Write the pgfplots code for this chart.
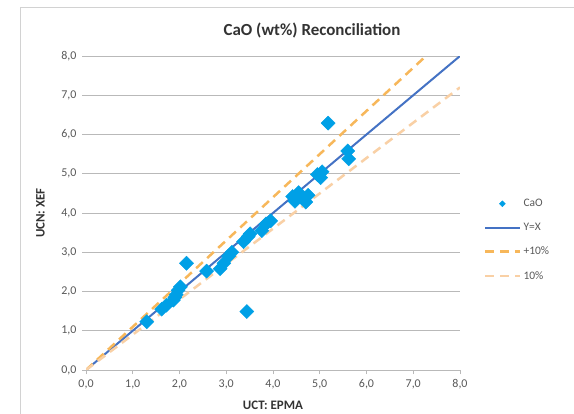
\documentclass[border=0pt]{standalone}
\usepackage{pgfplots}
\pgfplotsset{compat=1.18}
\usepackage{fontspec}
\setmainfont{Carlito}
\definecolor{caoc}{RGB}{0,160,230}
\definecolor{yxc}{RGB}{68,114,196}
\definecolor{upc}{RGB}{247,183,90}
\definecolor{loc}{RGB}{249,208,165}
\definecolor{gridc}{RGB}{185,185,185}
\definecolor{tickc}{RGB}{89,89,89}
\begin{document}
\begin{tikzpicture}
\useasboundingbox (0,0) rectangle (574bp,414bp);
\fill[white] (0,0) rectangle (574bp,414bp);
\draw[color=gray!35, line width=0.8bp] (20bp,0) -- (20bp,407bp) -- (574bp,407bp);
\begin{axis}[
  at={(86bp,44bp)}, anchor=south west,
  scale only axis, width=374bp, height=314bp,
  xmin=0, xmax=8, ymin=0, ymax=8,
  xtick={0,1,...,8}, ytick={0,1,...,8},
  /pgf/number format/.cd, fixed, zerofill, precision=1, use comma, assume math mode=true,
  /pgfplots/.cd,
  ymajorgrids, major grid style={gridc, line width=0.8bp},
  axis x line*=bottom, axis y line*=left,
  x axis line style={gridc, line width=0.8bp, -},
  y axis line style={draw=none},
  tick align=outside, major tick length=4bp,
  tick style={gridc, line width=0.8bp},
  ticklabel style={font=\fontsize{12}{14}\selectfont, text=tickc},
  xticklabel style={yshift=-2bp},
  yticklabel style={xshift=-2bp},
  xlabel={UCT: EPMA}, ylabel={UCN: XEF},
  every axis x label/.style={at={(axis description cs:0.5,-0.112)}, anchor=center, font=\bfseries\fontsize{13}{15}\selectfont, text=black!80},
  every axis y label/.style={at={(axis description cs:-0.122,0.5)}, anchor=center, rotate=90, font=\bfseries\fontsize{13}{15}\selectfont, text=black!80},
  clip=true,
  legend image code/.code={\draw[mark repeat=2,mark phase=2,#1] plot coordinates {(0bp,0bp) (17bp,0bp) (35bp,0bp)};},
  legend style={at={(axis description cs:1.064,0.414)}, anchor=west, draw=none, fill=none,
    font=\fontsize{11.5}{13}\selectfont, text=tickc, row sep=11bp, inner xsep=0bp},
  legend cell align=left,
]
\addplot[only marks, mark=square*, mark size=5pt, mark options={rotate=45, fill=caoc, draw=caoc}, caoc,
  legend image post style={mark size=2.1pt}]
coordinates {
(1.30,1.23) (1.62,1.55) (1.72,1.65) (1.87,1.78) (1.90,1.85) (1.93,1.92) (1.97,2.03) (2.02,2.12)
(2.15,2.72) (2.58,2.52) (2.87,2.58) (2.95,2.72) (3.05,2.90) (3.12,3.00) (3.37,3.27) (3.47,3.40)
(3.51,3.47) (3.44,1.49) (3.76,3.55) (3.85,3.72) (3.95,3.80) (4.42,4.42) (4.47,4.30) (4.55,4.52)
(4.62,4.38) (4.70,4.28) (4.75,4.45) (4.95,4.98) (5.05,5.05) (5.02,4.90) (5.18,6.29) (5.60,5.58) (5.62,5.38)
};
\addlegendentry{CaO}
\addplot[yxc, line width=2bp, no marks] coordinates {(0,0) (8,8)};
\addlegendentry{Y=X}
\addplot[upc, line width=2.5bp, dash pattern=on 9bp off 6bp, no marks] coordinates {(0,0) (7.2727,8)};
\addlegendentry{+10\%}
\addplot[loc, line width=2.5bp, dash pattern=on 9bp off 6bp, no marks] coordinates {(0,0) (8,7.2)};
\addlegendentry{10\%}
\end{axis}
\node[font=\bfseries\fontsize{17}{20}\selectfont, text=black!80] at (312bp,383bp) {CaO (wt\%) Reconciliation};
\end{tikzpicture}
\end{document}
